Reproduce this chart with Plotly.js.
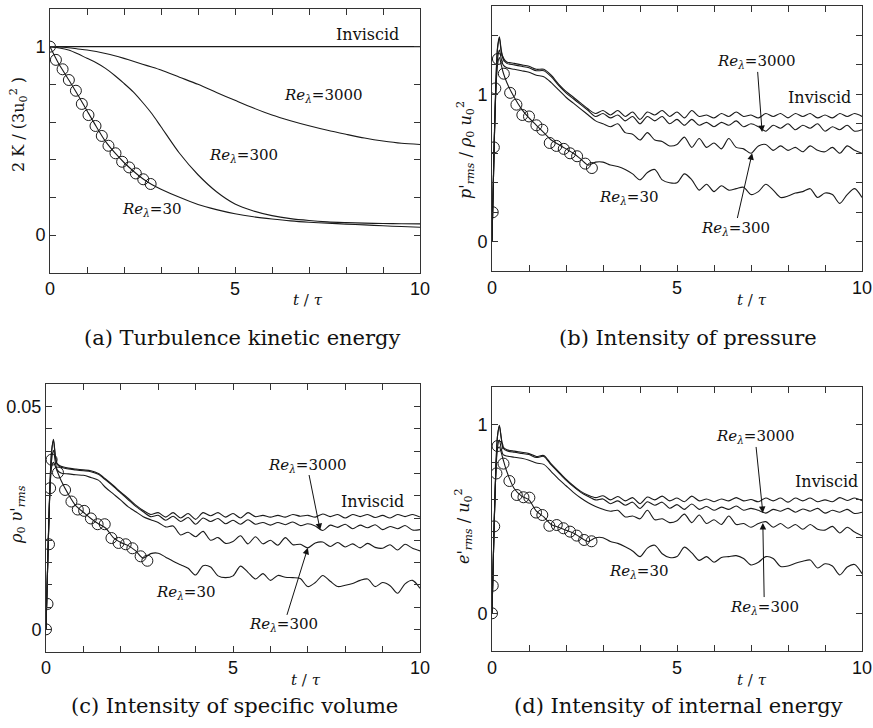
<!DOCTYPE html>
<html><head><meta charset="utf-8">
<script src="https://cdn.plot.ly/plotly-3.0.1.min.js"></script>
<style>html,body{margin:0;padding:0;background:#fff}</style>
</head><body><div id="chart" style="width:873px;height:728px"></div>
<script>
// ---------- panel (a): turbulence kinetic energy ----------
const tA = [0,0.25,0.5,0.75,1,1.25,1.5,1.75,2,2.25,2.5,2.75,3,3.5,4,4.5,5,5.5,6,6.5,7,7.5,8,8.5,9,9.5,10];
const aInviscid = [1,1,1,1,1,1,1,1,1,1,1,1,1,1,1,1,1,1,1,1,1,1,1,1,1,1,1];
const aRe3000 = [1.0,0.998,0.994,0.988,0.982,0.974,0.964,0.952,0.938,0.923,0.907,0.892,0.876,0.838,0.80,0.757,0.715,0.674,0.637,0.607,0.58,0.556,0.535,0.515,0.499,0.487,0.481];
const aRe300 = [1.0,0.993,0.982,0.962,0.938,0.915,0.885,0.847,0.805,0.76,0.705,0.645,0.575,0.434,0.32,0.23,0.165,0.128,0.103,0.087,0.077,0.07,0.066,0.063,0.061,0.06,0.059];
const aRe30 = [1.0,0.905,0.826,0.745,0.66,0.576,0.497,0.437,0.385,0.34,0.30,0.268,0.243,0.20,0.162,0.135,0.113,0.097,0.085,0.075,0.068,0.063,0.058,0.054,0.049,0.045,0.041];
const aCircT = [0,0.16,0.34,0.51,0.7,0.86,1.04,1.23,1.4,1.58,1.77,1.95,2.14,2.32,2.52,2.72];
const aCircV = [1.0,0.93,0.88,0.823,0.766,0.696,0.637,0.579,0.526,0.474,0.434,0.389,0.359,0.327,0.296,0.271];

// ---------- shared time grid for panels (b), (c), (d) ----------
const tW = [0,0.05,0.1,0.15,0.2,0.25,0.3,0.4,0.6,0.8,1.0,1.2,1.4,1.6,1.8,2.0,2.2,2.4,2.6,2.8,3.0,3.2,3.4,3.6,3.8,4.0,4.2,4.4,4.6,4.8,5.0,5.2,5.4,5.6,5.8,6.0,6.2,6.4,6.6,6.8,7.0,7.2,7.4,7.6,7.8,8.0,8.2,8.4,8.6,8.8,9.0,9.2,9.4,9.6,9.8,10.0];

// ---------- panel (b): intensity of pressure ----------
const bInviscid = [0,0.55,1.05,1.32,1.39,1.30,1.25,1.22,1.21,1.20,1.19,1.17,1.17,1.13,1.07,1.02,0.98,0.94,0.90,0.87,0.89,0.86,0.89,0.85,0.88,0.83,0.88,0.86,0.89,0.85,0.88,0.84,0.89,0.85,0.86,0.84,0.87,0.85,0.88,0.85,0.86,0.84,0.87,0.85,0.87,0.84,0.87,0.85,0.87,0.84,0.86,0.84,0.87,0.85,0.87,0.85];
const bRe3000 = [0,0.55,1.04,1.31,1.38,1.29,1.24,1.21,1.20,1.19,1.18,1.16,1.16,1.12,1.06,1.01,0.97,0.93,0.89,0.85,0.87,0.84,0.86,0.82,0.85,0.80,0.85,0.82,0.85,0.80,0.83,0.79,0.83,0.79,0.81,0.78,0.81,0.79,0.82,0.78,0.80,0.78,0.75,0.79,0.77,0.80,0.76,0.79,0.77,0.80,0.75,0.78,0.76,0.79,0.75,0.76];
const bRe300 = [0,0.55,1.0,1.24,1.30,1.24,1.20,1.18,1.17,1.16,1.15,1.13,1.12,1.08,1.03,0.98,0.94,0.90,0.86,0.82,0.80,0.78,0.80,0.74,0.73,0.69,0.74,0.69,0.68,0.65,0.66,0.71,0.64,0.70,0.64,0.67,0.63,0.70,0.64,0.63,0.60,0.65,0.66,0.62,0.65,0.62,0.64,0.61,0.65,0.62,0.61,0.64,0.60,0.65,0.62,0.60];
const bRe30 = [0,0.6,1.0,1.2,1.25,1.2,1.15,1.08,0.98,0.90,0.84,0.79,0.74,0.69,0.66,0.63,0.60,0.56,0.52,0.54,0.54,0.52,0.51,0.49,0.46,0.42,0.47,0.49,0.42,0.40,0.40,0.46,0.42,0.35,0.39,0.34,0.38,0.35,0.36,0.37,0.32,0.34,0.39,0.35,0.30,0.31,0.33,0.34,0.36,0.30,0.33,0.32,0.26,0.32,0.36,0.30];
const bCircT = [0.02,0.05,0.09,0.16,0.32,0.49,0.66,0.82,1.0,1.2,1.36,1.56,1.74,1.94,2.11,2.3,2.52,2.7];
const bCircV = [0.2,0.64,1.04,1.24,1.14,1.01,0.93,0.86,0.85,0.79,0.76,0.67,0.65,0.63,0.60,0.58,0.53,0.50];

// ---------- panel (c): intensity of specific volume ----------
const cInviscid = [0,0.016,0.031,0.040,0.0427,0.039,0.0372,0.0366,0.0362,0.0360,0.0358,0.0356,0.0350,0.0337,0.0323,0.0308,0.0294,0.0279,0.0267,0.0258,0.0262,0.0252,0.0262,0.0250,0.0260,0.0247,0.0262,0.0255,0.0262,0.0252,0.0260,0.0250,0.0262,0.0253,0.0256,0.0252,0.0256,0.0252,0.0258,0.0254,0.0256,0.0252,0.0259,0.0253,0.0258,0.0250,0.0258,0.0253,0.0258,0.0251,0.0256,0.0250,0.0258,0.0253,0.0258,0.0252];
const cRe3000 = [0,0.016,0.031,0.040,0.0424,0.0388,0.0370,0.0364,0.0360,0.0358,0.0356,0.0354,0.0348,0.0335,0.0321,0.0306,0.0291,0.0276,0.0264,0.0253,0.0256,0.0245,0.0254,0.0242,0.0251,0.0236,0.0250,0.0242,0.0249,0.0237,0.0245,0.0236,0.0246,0.0236,0.0240,0.0234,0.0240,0.0235,0.0241,0.0233,0.0237,0.0232,0.0222,0.0234,0.0229,0.0236,0.0226,0.0234,0.0228,0.0235,0.0224,0.0231,0.0226,0.0233,0.0223,0.0224];
const cRe300 = [0,0.016,0.030,0.038,0.0402,0.0375,0.0358,0.0351,0.0349,0.0347,0.0346,0.0341,0.0335,0.0318,0.0304,0.0290,0.0275,0.0264,0.0253,0.0246,0.0240,0.0230,0.0232,0.0212,0.0218,0.0208,0.0220,0.0200,0.0206,0.0193,0.0197,0.0210,0.0192,0.0208,0.0192,0.0200,0.0189,0.0206,0.0190,0.0191,0.0183,0.0194,0.0196,0.0186,0.0195,0.0185,0.0192,0.0183,0.0193,0.0184,0.0182,0.0190,0.0178,0.0191,0.0182,0.0176];
const cRe30 = [0,0.017,0.030,0.0365,0.0375,0.0366,0.0355,0.0335,0.0303,0.0277,0.0263,0.0249,0.0237,0.0227,0.0206,0.0195,0.0188,0.0176,0.0160,0.0170,0.0171,0.0162,0.0153,0.0145,0.0137,0.0122,0.0143,0.0140,0.0120,0.0116,0.0120,0.0142,0.0128,0.0113,0.0125,0.0110,0.0121,0.0117,0.0116,0.0114,0.0096,0.0105,0.0121,0.0108,0.0096,0.0099,0.0103,0.0110,0.0113,0.0096,0.0105,0.0098,0.0081,0.0102,0.0110,0.0092];
const cCircT = [0,0.04,0.08,0.11,0.15,0.32,0.51,0.68,0.85,1.02,1.2,1.38,1.57,1.75,1.94,2.13,2.31,2.53,2.71];
const cCircV = [0,0.0057,0.0191,0.0317,0.0381,0.0352,0.0313,0.0287,0.0269,0.0266,0.0249,0.0236,0.0236,0.0205,0.0194,0.0191,0.0182,0.0164,0.0154];

// ---------- panel (d): intensity of internal energy ----------
const dInviscid = [0,0.40,0.75,0.94,0.995,0.93,0.88,0.866,0.858,0.852,0.845,0.83,0.835,0.79,0.75,0.71,0.675,0.645,0.625,0.612,0.622,0.60,0.618,0.595,0.612,0.58,0.615,0.60,0.62,0.595,0.61,0.59,0.62,0.595,0.605,0.59,0.605,0.595,0.612,0.595,0.602,0.59,0.61,0.595,0.61,0.588,0.61,0.595,0.61,0.59,0.60,0.59,0.612,0.597,0.61,0.595];
const dRe3000 = [0,0.40,0.75,0.94,0.99,0.925,0.875,0.86,0.852,0.846,0.84,0.824,0.83,0.785,0.745,0.705,0.67,0.64,0.618,0.60,0.605,0.58,0.595,0.572,0.588,0.555,0.59,0.572,0.588,0.556,0.575,0.55,0.578,0.55,0.565,0.545,0.562,0.55,0.568,0.545,0.555,0.545,0.53,0.55,0.54,0.555,0.535,0.552,0.54,0.555,0.53,0.545,0.535,0.55,0.528,0.535];
const dRe300 = [0,0.40,0.72,0.88,0.917,0.87,0.84,0.832,0.826,0.82,0.81,0.795,0.788,0.75,0.71,0.675,0.64,0.61,0.585,0.565,0.55,0.54,0.545,0.51,0.515,0.50,0.545,0.495,0.50,0.48,0.49,0.525,0.48,0.52,0.475,0.495,0.47,0.515,0.47,0.475,0.455,0.475,0.485,0.455,0.475,0.45,0.47,0.445,0.47,0.445,0.44,0.46,0.425,0.455,0.43,0.41];
const dRe30 = [0,0.42,0.72,0.87,0.88,0.85,0.815,0.75,0.66,0.62,0.60,0.54,0.51,0.47,0.455,0.44,0.425,0.40,0.38,0.40,0.40,0.38,0.37,0.352,0.33,0.30,0.345,0.36,0.315,0.295,0.30,0.35,0.32,0.28,0.30,0.27,0.295,0.30,0.305,0.29,0.256,0.27,0.30,0.29,0.248,0.25,0.265,0.275,0.282,0.24,0.262,0.25,0.203,0.245,0.258,0.21];
const dCircT = [0,0.02,0.06,0.12,0.15,0.31,0.47,0.67,0.85,1.01,1.19,1.36,1.55,1.75,1.93,2.11,2.29,2.49,2.69];
const dCircV = [0,0.146,0.46,0.74,0.885,0.792,0.70,0.626,0.614,0.612,0.533,0.52,0.463,0.467,0.450,0.432,0.411,0.388,0.381];

// ---------- tick labels (labelled major ticks; unlabelled ticks are minor) ----------
const xTickVals = [0, 5, 10];
const xTickText = ['0', '5', '10'];
const yTickValsA = [0, 1];
const yTickTextA = ['0', '1'];
const yTickValsB = [0, 1];
const yTickTextB = ['0', '1'];
const yTickValsC = [0, 0.05];
const yTickTextC = ['0', '0.05'];
const yTickValsD = [0, 1];
const yTickTextD = ['0', '1'];

const W = 873, H = 728;
const SERIF = 'DejaVu Serif';
const SANS = 'Liberation Sans';
const LC = '#1a1a1a';

function line(x, y, xa, ya, name) {
  return {x: x, y: y, xaxis: xa, yaxis: ya, mode: 'lines', name: name,
          line: {color: LC, width: 1.1, shape: 'spline', smoothing: 0.8},
          showlegend: false, hoverinfo: 'skip'};
}
function circles(x, y, xa, ya) {
  return {x: x, y: y, xaxis: xa, yaxis: ya, mode: 'markers', name: 'DNS',
          marker: {symbol: 'circle-open', size: 11, color: LC, line: {width: 1, color: LC}},
          showlegend: false, hoverinfo: 'skip'};
}
const traces = [
  line(tA, aInviscid, 'x', 'y', 'Inviscid'), line(tA, aRe3000, 'x', 'y', 'Re3000'),
  line(tA, aRe300, 'x', 'y', 'Re300'), line(tA, aRe30, 'x', 'y', 'Re30'), circles(aCircT, aCircV, 'x', 'y'),
  line(tW, bInviscid, 'x2', 'y2', 'Inviscid'), line(tW, bRe3000, 'x2', 'y2', 'Re3000'),
  line(tW, bRe300, 'x2', 'y2', 'Re300'), line(tW, bRe30, 'x2', 'y2', 'Re30'), circles(bCircT, bCircV, 'x2', 'y2'),
  line(tW, cInviscid, 'x3', 'y3', 'Inviscid'), line(tW, cRe3000, 'x3', 'y3', 'Re3000'),
  line(tW, cRe300, 'x3', 'y3', 'Re300'), line(tW, cRe30, 'x3', 'y3', 'Re30'), circles(cCircT, cCircV, 'x3', 'y3'),
  line(tW, dInviscid, 'x4', 'y4', 'Inviscid'), line(tW, dRe3000, 'x4', 'y4', 'Re3000'),
  line(tW, dRe300, 'x4', 'y4', 'Re300'), line(tW, dRe30, 'x4', 'y4', 'Re30'), circles(dCircT, dCircV, 'x4', 'y4')
];

function px(v) { return v / W; }
function py(v) { return 1 - v / H; }
const TICK = {ticks: 'inside', ticklen: 6, tickwidth: 1, tickcolor: '#333'};
function xax(l, r, anchor) {
  return Object.assign({domain: [px(l), px(r)], range: [0, 10], anchor: anchor,
          tickmode: 'array', tickvals: xTickVals, ticktext: xTickText,
          minor: {tickmode: 'linear', tick0: 0, dtick: 1, ticks: 'inside', ticklen: 6, tickwidth: 1, tickcolor: '#333', showgrid: false},
          showline: true, linecolor: '#333', linewidth: 1, mirror: 'allticks',
          showgrid: false, zeroline: false, tickfont: {family: SANS, size: 18, color: '#111'}, fixedrange: true}, TICK);
}
function yax(top, bot, range, vals, text, minorStep, anchor) {
  return Object.assign({domain: [py(bot), py(top)], range: range, anchor: anchor,
          tickmode: 'array', tickvals: vals, ticktext: text,
          minor: {tickmode: 'linear', tick0: 0, dtick: minorStep, ticks: 'inside', ticklen: 6, tickwidth: 1, tickcolor: '#333', showgrid: false},
          showline: true, linecolor: '#333', linewidth: 1, mirror: 'allticks',
          showgrid: false, zeroline: false, tickfont: {family: SANS, size: 18, color: '#111'}, fixedrange: true}, TICK);
}

function lab(xr, yr, x, y, text, size) {
  return {xref: xr, yref: yr, x: x, y: y, text: text, showarrow: false,
          font: {family: SERIF, size: size || 15, color: '#111'}, xanchor: 'center', yanchor: 'middle'};
}
// label placed at the arrow tail, arrow pointing to its curve
function arrLab(xr, yr, tipX, tipY, labX, labY, text) {
  return {xref: xr, yref: yr, x: tipX, y: tipY, ax: labX, ay: labY, axref: xr, ayref: yr, text: text,
          font: {family: SERIF, size: 15, color: '#111'}, borderpad: 0,
          showarrow: true, arrowhead: 2, arrowsize: 1.3, arrowwidth: 1, arrowcolor: '#111',
          standoff: 0, startstandoff: 0};
}
function plab(x, y, text, size, angle) {
  const o = {xref: 'paper', yref: 'paper', x: px(x), y: py(y), text: text, showarrow: false,
             font: {family: SERIF, size: size, color: '#111'}, xanchor: 'center', yanchor: 'middle'};
  if (angle) o.textangle = angle;
  return o;
}
const RE = '<i>Re</i><sub><i>λ</i></sub>';
const TT = '<i>t</i> / <i>τ</i>';
const annotations = [
  // panel a
  lab('x', 'y', 8.59, 1.062, 'Inviscid', 16),
  lab('x', 'y', 7.38, 0.743, RE + '=3000'),
  lab('x', 'y', 5.24, 0.42, RE + '=300'),
  lab('x', 'y', 2.73, 0.138, RE + '=30'),
  // panel b
  arrLab('x2', 'y2', 7.3, 0.744, 7.16, 1.22, RE + '=3000'),
  lab('x2', 'y2', 8.86, 0.98, 'Inviscid', 16),
  lab('x2', 'y2', 3.70, 0.30, RE + '=30'),
  arrLab('x2', 'y2', 7.03, 0.60, 6.57, 0.093, RE + '=300'),
  // panel c
  arrLab('x3', 'y3', 7.33, 0.0223, 6.98, 0.0369, RE + '=3000'),
  lab('x3', 'y3', 8.72, 0.0286, 'Inviscid', 16),
  lab('x3', 'y3', 3.72, 0.0082, RE + '=30'),
  arrLab('x3', 'y3', 7.0, 0.0183, 6.36, 0.001, RE + '=300'),
  // panel d
  arrLab('x4', 'y4', 7.32, 0.531, 7.11, 0.933, RE + '=3000'),
  lab('x4', 'y4', 9.03, 0.695, 'Inviscid', 16),
  lab('x4', 'y4', 3.97, 0.219, RE + '=30'),
  arrLab('x4', 'y4', 7.32, 0.478, 7.36, 0.033, RE + '=300'),
  // axis titles
  plab(18, 125, '2 K / (3u<sub>0</sub><sup>2</sup> )', 16, -90),
  plab(466, 150, "<i>p</i>'<sub><i>rms</i></sub> / <i>ρ</i><sub>0</sub> <i>u</i><sub>0</sub><sup>2</sup>", 16, -90),
  plab(17, 515, "<i>ρ</i><sub>0</sub> <i>υ</i>'<sub><i>rms</i></sub>", 16, -90),
  plab(463, 526, "<i>e</i>'<sub><i>rms</i></sub> / <i>u</i><sub>0</sub><sup>2</sup>", 16, -90),
  plab(308, 300, TT, 15), plab(752, 300, TT, 15),
  plab(306, 680, TT, 15), plab(752, 680, TT, 15),
  // captions
  plab(242, 338, '(a) Turbulence kinetic energy', 21),
  plab(688, 338, '(b) Intensity of pressure', 21),
  plab(234, 706, '(c) Intensity of specific volume', 21),
  plab(678, 706, '(d) Intensity of internal energy', 21)
];

const layout = {
  width: W, height: H, margin: {l: 0, r: 0, t: 0, b: 0},
  paper_bgcolor: '#fff', plot_bgcolor: '#fff', showlegend: false,
  font: {family: SERIF, size: 16, color: '#111'},
  xaxis: xax(50, 420, 'y'),
  yaxis: yax(9, 272.7, [-0.2, 1.2], yTickValsA, yTickTextA, 0.2, 'x'),
  xaxis2: xax(492, 862, 'y2'),
  yaxis2: yax(5.9, 271.2, [-0.2, 1.6], yTickValsB, yTickTextB, 0.2, 'x2'),
  xaxis3: xax(46, 420, 'y3'),
  yaxis3: yax(384.4, 651.6, [-0.005, 0.055], yTickValsC, yTickTextC, 0.005, 'x3'),
  xaxis4: xax(492, 862, 'y4'),
  yaxis4: yax(386.5, 651.1, [-0.2, 1.2], yTickValsD, yTickTextD, 0.2, 'x4'),
  annotations: annotations
};
Plotly.newPlot('chart', traces, layout, {staticPlot: true, displayModeBar: false});
</script></body></html>
